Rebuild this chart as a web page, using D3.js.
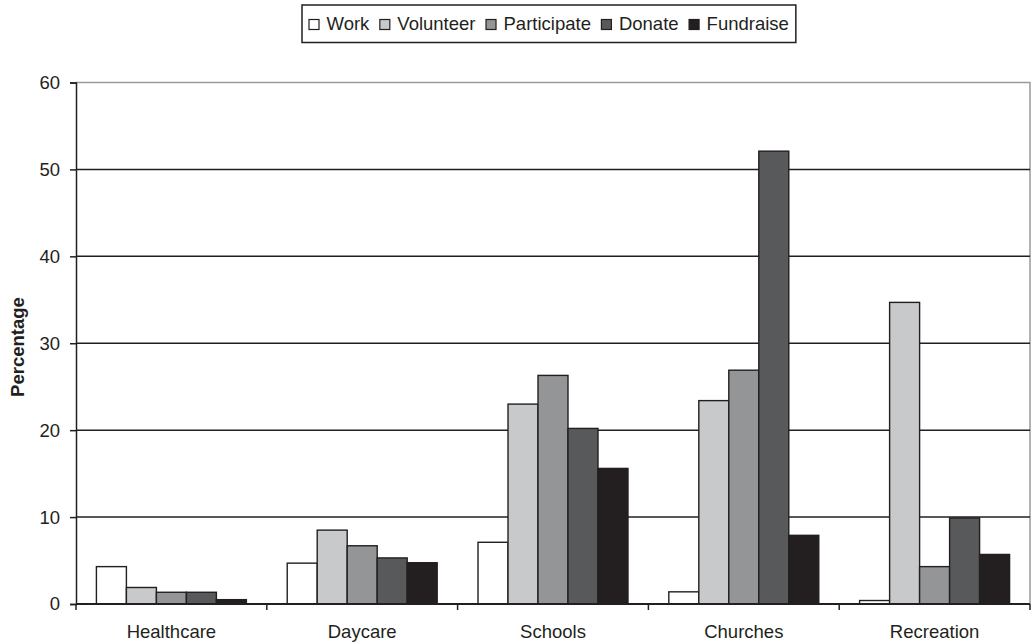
<!DOCTYPE html>
<html>
<head>
<meta charset="utf-8">
<script src="https://cdn.jsdelivr.net/npm/d3@7"></script>
<style>
  html, body { margin: 0; padding: 0; background: #fff; }
  svg { display: block; font-family: "Liberation Sans", Arial, sans-serif; }
</style>
</head>
<body>
<svg id="chart" width="1031" height="643"></svg>
<script>
// Categories and series shown in the grouped bar chart
const categories = ["Healthcare", "Daycare", "Schools", "Churches", "Recreation"];
const seriesNames = ["Work", "Volunteer", "Participate", "Donate", "Fundraise"];
const seriesColors = ["#ffffff", "#c8c9cb", "#949597", "#58595b", "#231f20"];

// Percentage for each series, one entry per category
const work        = [4.3, 4.7, 7.1, 1.4, 0.4];
const volunteer   = [1.9, 8.5, 23.0, 23.4, 34.7];
const participate = [1.35, 6.7, 26.3, 26.9, 4.3];
const donate      = [1.35, 5.3, 20.2, 52.1, 9.9];
const fundraise   = [0.5, 4.75, 15.6, 7.9, 5.7];
const seriesValues = [work, volunteer, participate, donate, fundraise];

const yTicks = [0, 10, 20, 30, 40, 50, 60];

const svg = d3.select("#chart");
const margin = { left: 76, right: 1030, top: 82.5, bottom: 604 };
const ink = "#231f20";
const fontSize = 18.5;

const x0 = d3.scaleBand().domain(categories).range([margin.left, margin.right]);
const inset = x0.bandwidth() * 0.107;
const x1 = d3.scaleBand().domain(seriesNames).range([inset, x0.bandwidth() - inset]);
const y = d3.scaleLinear().domain([0, 60]).range([margin.bottom, margin.top]);

// Plot frame (top and right edges in light grey)
svg.append("path")
  .attr("d", `M${margin.left},${margin.top}H${margin.right}V${margin.bottom}`)
  .attr("fill", "none").attr("stroke", "#9a9a9a").attr("stroke-width", 1.5);

// Horizontal gridlines
svg.append("g").selectAll("line")
  .data(yTicks.filter(d => d > 0 && d < 60))
  .join("line")
  .attr("x1", margin.left).attr("x2", margin.right)
  .attr("y1", d => y(d)).attr("y2", d => y(d))
  .attr("stroke", ink).attr("stroke-width", 1.5);

// Bars
const groups = svg.append("g").selectAll("g")
  .data(categories)
  .join("g")
  .attr("transform", d => `translate(${x0(d)},0)`);

groups.selectAll("rect")
  .data((c, ci) => seriesNames.map((s, si) => ({ s, si, v: seriesValues[si][ci] })))
  .join("rect")
  .attr("x", d => x1(d.s))
  .attr("width", x1.bandwidth())
  .attr("y", d => y(d.v))
  .attr("height", d => y(0) - y(d.v))
  .attr("fill", d => seriesColors[d.si])
  .attr("stroke", ink).attr("stroke-width", 1.4);

// Y axis
const yAxis = svg.append("g")
  .attr("transform", `translate(${margin.left},0)`)
  .call(d3.axisLeft(y).tickValues(yTicks).tickSize(6).tickPadding(10).tickFormat(d3.format("d")));
yAxis.select(".domain").attr("stroke", ink).attr("stroke-width", 1.5);
yAxis.selectAll(".tick line").attr("stroke", ink).attr("stroke-width", 1.5);
yAxis.selectAll(".tick text").attr("font-size", fontSize).attr("fill", ink)
  .attr("font-family", "Liberation Sans, Arial, sans-serif");

// X axis with ticks at category boundaries
const xAxisG = svg.append("g");
xAxisG.append("line")
  .attr("x1", margin.left).attr("x2", margin.right)
  .attr("y1", y(0)).attr("y2", y(0))
  .attr("stroke", ink).attr("stroke-width", 2);
xAxisG.selectAll("line.tick")
  .data(categories.map(c => x0(c)).concat([margin.right]))
  .join("line").attr("class", "tick")
  .attr("x1", d => d).attr("x2", d => d)
  .attr("y1", y(0)).attr("y2", y(0) + 6)
  .attr("stroke", ink).attr("stroke-width", 1.5);
xAxisG.selectAll("text")
  .data(categories)
  .join("text")
  .attr("x", d => x0(d) + x0.bandwidth() / 2)
  .attr("y", 638)
  .attr("text-anchor", "middle")
  .attr("font-size", fontSize).attr("fill", ink)
  .text(d => d);

// Y axis title
svg.append("text")
  .attr("transform", "translate(23.5,347) rotate(-90)")
  .attr("text-anchor", "middle")
  .attr("font-size", fontSize).attr("font-weight", "bold").attr("fill", ink)
  .text("Percentage");

// Legend
const legend = svg.append("g");
const legendBox = legend.append("rect")
  .attr("fill", "#fff").attr("stroke", ink).attr("stroke-width", 1.5);
let lx = 309;
const ly = 24.5;
seriesNames.forEach((name, i) => {
  legend.append("rect")
    .attr("x", lx).attr("y", ly - 5).attr("width", 10).attr("height", 10)
    .attr("fill", seriesColors[i]).attr("stroke", ink).attr("stroke-width", 1.2);
  const t = legend.append("text")
    .attr("x", lx + 17.5).attr("y", ly + 5.5)
    .attr("font-size", fontSize).attr("fill", ink)
    .text(name);
  lx += 17.5 + t.node().getComputedTextLength() + 10.5;
});
legendBox.attr("x", 302).attr("y", 5).attr("width", lx - 302 - 3.5).attr("height", 37.5);
</script>
</body>
</html>
